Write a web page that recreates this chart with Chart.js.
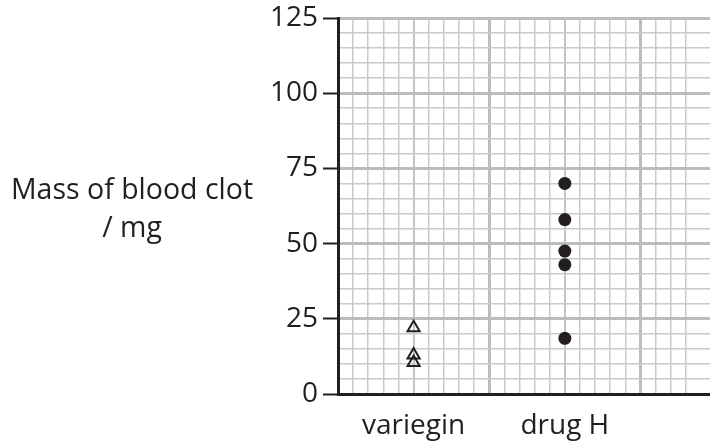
<!DOCTYPE html>
<html>
<head>
<meta charset="utf-8">
<script src="https://cdn.jsdelivr.net/npm/chart.js@4.4.0/dist/chart.umd.min.js"></script>
<style>
  html, body { margin: 0; padding: 0; background: #fff; }
  #wrap { width: 710px; height: 445px; }
</style>
</head>
<body>
<div id="wrap"><canvas id="chart" width="710" height="445"></canvas></div>
<script>
// valores
const categories = ['variegin', 'drug H'];
const variegin = [22, 13, 10.5];
const drugH = [70, 58, 47.5, 43, 18.5];
const yTicks = [0, 25, 50, 75, 100, 125];
const axisTitle = ['Mass of blood clot', '/ mg'];

const INK = '#231f20';
const FONT = "'Open Sans', sans-serif";
const NONE = 'rgba(0,0,0,0)';

// cada categoria fica no meio de um bloco de 10 quadradinhos
function catX(i) {
    return 5 + 10 * i;
}

// cores do papel milimetrado
function xGridColor(v) {
    if (!Number.isInteger(v)) return NONE;
    if (v % 10 === 0) return '#bcbcc0';
    if (v % 5 === 0) return '#c4c4c7';
    return '#cacacd';
}
function xGridWidth(v) {
    if (v % 10 === 0) return 3;
    if (v % 5 === 0) return 2;
    return 1.5;
}

// título do eixo y na horizontal, à esquerda
const yTitlePlugin = {
    id: 'yTitle',
    afterDraw(chart) {
        const ctx = chart.ctx;
        ctx.save();
        ctx.font = '28.5px ' + FONT;
        ctx.fillStyle = INK;
        ctx.textAlign = 'center';
        ctx.textBaseline = 'alphabetic';
        ctx.fillText(axisTitle[0], 132, 199);
        ctx.fillText(axisTitle[1], 132, 237);
        ctx.restore();
    }
};

const ctx = document.getElementById('chart').getContext('2d');
const chart = new Chart(ctx, {
    type: 'scatter',
    data: {
        datasets: [
            {
                label: categories[0],
                data: variegin.map(y => ({ x: catX(0), y: y })),
                pointStyle: 'triangle',
                pointRadius: 7,
                borderColor: INK,
                borderWidth: 2,
                backgroundColor: NONE
            },
            {
                label: categories[1],
                data: drugH.map(y => ({ x: catX(1), y: y })),
                pointStyle: 'circle',
                pointRadius: 6.5,
                borderWidth: 0,
                backgroundColor: INK
            }
        ]
    },
    options: {
        responsive: false,
        devicePixelRatio: 1,
        animation: false,
        // sem autoPadding o papel vai até a borda direita
        layout: { autoPadding: false, padding: { top: 18, right: 0, left: 0, bottom: 0 } },
        plugins: {
            legend: { display: false },
            tooltip: { enabled: false }
        },
        scales: {
            x: {
                type: 'linear',
                min: 0,
                max: 24.6,
                afterFit: s => {
                    s.height = 51;
                    s.paddingLeft = 0;
                    s.paddingRight = 0;
                },
                border: { color: INK, width: 3 },
                grid: {
                    // tick invisível só para afastar os rótulos do eixo
                    drawTicks: true,
                    tickLength: 15,
                    tickColor: NONE,
                    color: c => xGridColor(c.tick.value),
                    lineWidth: c => xGridWidth(c.tick.value)
                },
                ticks: {
                    stepSize: 1,
                    autoSkip: false,
                    maxRotation: 0,
                    padding: 0,
                    color: INK,
                    font: { family: FONT, size: 28 },
                    callback: v => {
                        const i = categories.findIndex((c, k) => catX(k) === v);
                        return i >= 0 ? categories[i] : '';
                    }
                }
            },
            y: {
                min: 0,
                max: 125,
                afterFit: s => {
                    s.width = 338;
                    s.paddingTop = 0;
                    s.paddingBottom = 0;
                },
                border: { color: INK, width: 3 },
                grid: {
                    color: c => c.tick.value % 25 === 0 ? '#bcbcc0' : '#cacacd',
                    lineWidth: c => c.tick.value % 25 === 0 ? 3 : 1.5,
                    tickColor: c => c.tick.value % 25 === 0 ? INK : NONE,
                    tickWidth: 2,
                    tickLength: 15
                },
                ticks: {
                    stepSize: 5,
                    autoSkip: false,
                    padding: 5,
                    color: INK,
                    font: { family: FONT, size: 28 },
                    callback: v => yTicks.includes(v) ? String(v) : ''
                }
            }
        }
    },
    plugins: [yTitlePlugin]
});
</script>
</body>
</html>
